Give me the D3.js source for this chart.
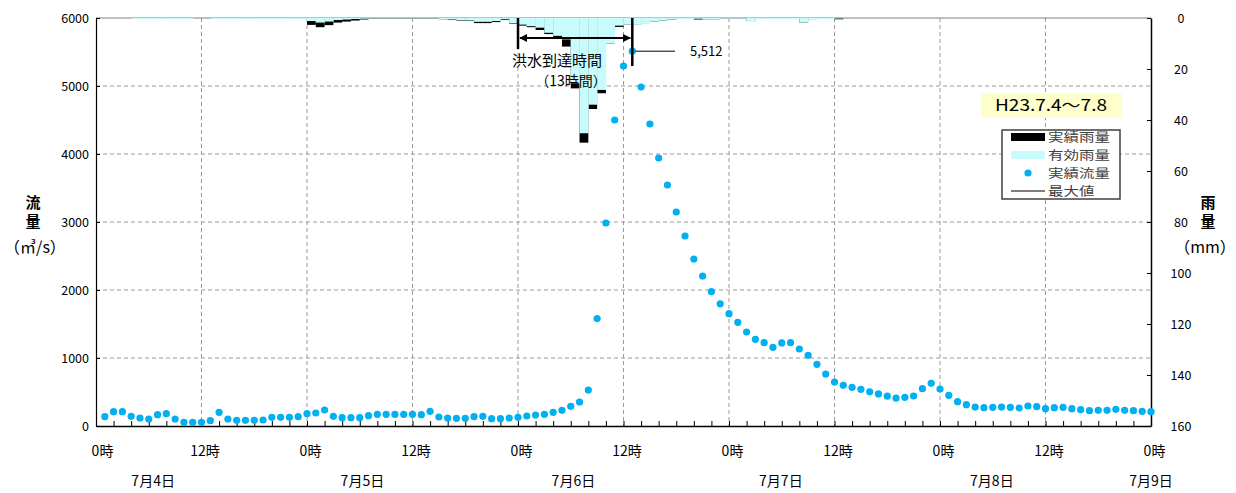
<!DOCTYPE html>
<html><head><meta charset="utf-8">
<script src="https://cdn.jsdelivr.net/npm/d3@7"></script>
<style>
body{margin:0;background:#fff;}
text{font-family:"Noto Sans CJK JP","Noto Sans",sans-serif;}
</style></head>
<body><svg id="c" width="1236" height="493"></svg>
<script>
// hourly flow (m3/s), hours 1..120 starting 7/4 0時
const flow = [137,211,211,142,118,103,167,181,103,54,54,54,78,201,103,83,83,83,88,127,127,127,137,181,
191,235,142,123,123,123,152,172,172,172,172,172,167,216,132,118,113,113,137,142,108,108,118,127,
147,162,172,201,230,289,353,529,1580,2985,4500,5294,5512,4985,4441,3941,3544,3147,2794,2456,2206,1975,1797,1652,
1525,1382,1275,1225,1157,1221,1225,1132,1039,907,765,647,598,569,540,502,471,438,410,422,441,549,627,544,
451,358,314,279,270,275,279,275,265,294,284,255,270,275,255,240,225,230,230,245,230,225,216,211];
// hourly actual rainfall (mm), hours 1..120
const rainActual = [0,0,0,0,0.4,0.4,0.4,0.4,0.4,0.4,0.4,0,0,0.4,0.4,0.4,0.4,0.4,0.4,0.4,0.4,0.4,0.4,0.4,
2.7,3.6,2.8,1.8,1.4,1.0,0.6,0.2,0.2,0.2,0.2,0.2,0.2,0.2,0.2,0.5,0.8,1.0,1.2,2.0,2.0,1.6,0.8,2.2,
3.0,3.6,4.7,6.3,8.0,11.2,27.6,48.9,35.7,29.5,10,3.5,2.5,2.7,2.0,1.4,1.0,0.6,0.4,0.4,0.6,0.5,0.5,0.3,
0.3,0.3,1.2,0.4,0.4,0.4,0.4,0.4,1.8,0.8,0.4,0.4,0.5,0,0,0,0,0,0,0,0,0,0,0,
0,0,0,0,0,0,0,0,0,0,0,0,0,0,0,0,0,0,0,0,0,0,0,0];
// hourly effective rainfall (mm)
const rainEffective = [0,0,0,0,0.4,0.4,0.4,0.4,0.4,0.4,0.4,0,0,0.4,0.4,0.4,0.4,0.4,0.4,0.4,0.4,0.4,0.4,0.4,
1.2,1.8,1.4,0.8,0.6,0.4,0.3,0.2,0.2,0.2,0.2,0.2,0.2,0.2,0.2,0.5,0.6,0.8,1.0,1.5,1.5,1.2,0.5,2.0,
2.6,3.2,3.8,5.8,7.0,8.4,25.6,45.2,34.0,28.2,10,3.0,2.5,2.7,2.0,1.4,1.0,0.6,0.4,0.4,0.3,0.5,0.5,0.3,
0.3,0.3,1.2,0.4,0.4,0.4,0.4,0.4,1.8,0.8,0.4,0.4,0.2,0,0,0,0,0,0,0,0,0,0,0,
0,0,0,0,0,0,0,0,0,0,0,0,0,0,0,0,0,0,0,0,0,0,0,0];
const flowTicks = [0,1000,2000,3000,4000,5000,6000];
const rainTicks = [0,20,40,60,80,100,120,140,160];
const hourLabelTicks = [0,12,24,36,48,60,72,84,96,108,120];
const dateLabels = ["7月4日","7月5日","7月6日","7月7日","7月8日","7月9日"];
const datePos = [6.5,30.3,54.3,77.9,101.9,120];
const legendLabels = ["実績雨量","有効雨量","実績流量","最大値"];
const maxHour = 61, maxValue = 5512;
const arrivalStart = 48, arrivalEnd = 61;

const svg = d3.select("#c");
const L=96,R=1151,T=18,B=426;
const x = d3.scaleLinear().domain([0,120]).range([L,R]);
const y = d3.scaleLinear().domain([0,6000]).range([B,T]);
const yr = d3.scaleLinear().domain([0,160]).range([T,B]);

// grid
const g = svg.append("g");
g.selectAll("line.h").data(flowTicks.filter(d=>d>0&&d<6000)).join("line")
 .attr("x1",L).attr("x2",R).attr("y1",d=>y(d)).attr("y2",d=>y(d))
 .attr("stroke","#9a9a9a").attr("stroke-dasharray","4,3");
g.selectAll("line.v").data(hourLabelTicks.filter(d=>d>0&&d<120)).join("line")
 .attr("y1",T).attr("y2",B).attr("x1",d=>x(d)).attr("x2",d=>x(d))
 .attr("stroke","#9a9a9a").attr("stroke-dasharray","4,3");
// top border
svg.append("line").attr("x1",L).attr("x2",R).attr("y1",T).attr("y2",T).attr("stroke","#808080");

// rain bars
const hours = d3.range(1,121);
svg.append("g").selectAll("rect").data(hours.filter(h=>rainActual[h-1]>0)).join("rect")
 .attr("x",h=>x(h-1)).attr("width",h=>x(h)-x(h-1)).attr("y",T)
 .attr("height",h=>yr(rainActual[h-1])-T).attr("fill","#000");
svg.append("g").selectAll("rect").data(hours.filter(h=>rainEffective[h-1]>0)).join("rect")
 .attr("x",h=>x(h-1)).attr("width",h=>x(h)-x(h-1)+0.3).attr("y",T)
 .attr("height",h=>yr(rainEffective[h-1])-T).attr("fill","#c8fcfc");

// axes
const ax = svg.append("g").attr("transform",`translate(0,${B})`)
 .call(d3.axisBottom(x).tickValues(d3.range(0,121,2)).tickSize(-5).tickSizeOuter(0).tickFormat(""));
ax.select(".domain").attr("stroke","#000").attr("stroke-width",1.5);
const axl = svg.append("g").attr("transform",`translate(0,${B})`)
 .call(d3.axisBottom(x).tickValues(hourLabelTicks).tickSize(0).tickPadding(20).tickFormat(d=>(d%24)+"時"));
axl.select(".domain").remove();
axl.selectAll("text").attr("font-size",14).attr("fill","#000").attr("font-family","Noto Sans CJK JP").attr("dx",(d)=>d===0?6:3);
svg.append("g").selectAll("text").data(dateLabels).join("text")
 .attr("x",(d,i)=>x(datePos[i])).attr("y",486).attr("text-anchor","middle")
 .attr("font-size",14).text(d=>d);

const yl = svg.append("g").attr("transform",`translate(${L},0)`)
 .call(d3.axisLeft(y).tickValues(flowTicks).tickSize(-4).tickSizeOuter(0).tickPadding(7).tickFormat(d3.format("d")));
yl.select(".domain").attr("stroke","#000").attr("stroke-width",1.2);
yl.selectAll("text").attr("font-size",12.5).attr("fill","#000").attr("font-family","Liberation Sans");

const yrr = svg.append("g").attr("transform",`translate(${R},0)`)
 .call(d3.axisRight(yr).tickValues(rainTicks).tickSize(-4).tickSizeOuter(0).tickPadding(30));
yrr.select(".domain").attr("stroke","#000").attr("stroke-width",1.5);
yrr.selectAll("text").attr("font-size",12.5).attr("fill","#000").attr("text-anchor","middle").attr("font-family","Liberation Sans");

// axis titles
[["流",33,208],["量",33,227]].forEach(a=>svg.append("text").attr("x",a[1]).attr("y",a[2]).attr("text-anchor","middle").attr("font-size",15).attr("font-weight","bold").text(a[0]));
svg.append("text").attr("x",35).attr("y",253).attr("text-anchor","middle").attr("font-size",16).text("（㎥/s）");
[["雨",1208,208],["量",1208,227]].forEach(a=>svg.append("text").attr("x",a[1]).attr("y",a[2]).attr("text-anchor","middle").attr("font-size",15).attr("font-weight","bold").text(a[0]));
svg.append("text").attr("x",1205).attr("y",253).attr("text-anchor","middle").attr("font-size",16).text("（mm）");

// flow dots
svg.append("g").selectAll("circle").data(hours).join("circle")
 .attr("cx",h=>x(h)).attr("cy",h=>y(flow[h-1])).attr("r",3.6).attr("fill","#00b0f0");

// arrival time annotation
svg.append("line").attr("x1",x(arrivalStart)).attr("x2",x(arrivalStart)).attr("y1",T).attr("y2",49).attr("stroke","#000").attr("stroke-width",2.5);
svg.append("line").attr("x1",x(arrivalEnd)).attr("x2",x(arrivalEnd)).attr("y1",T).attr("y2",66).attr("stroke","#000").attr("stroke-width",2.5);
const defs = svg.append("defs");
defs.append("marker").attr("id","ah").attr("viewBox","0 0 10 10").attr("refX",9).attr("refY",5)
 .attr("markerWidth",4).attr("markerHeight",4).attr("orient","auto-start-reverse")
 .append("path").attr("d","M0,0L10,5L0,10z").attr("fill","#000");
svg.append("line").attr("x1",x(arrivalStart)+2).attr("x2",x(arrivalEnd)-2).attr("y1",38).attr("y2",38)
 .attr("stroke","#000").attr("stroke-width",2).attr("marker-start","url(#ah)").attr("marker-end","url(#ah)");
svg.append("text").attr("x",557).attr("y",66).attr("text-anchor","middle").attr("font-size",15).text("洪水到達時間");
svg.append("text").attr("x",571).attr("y",86).attr("text-anchor","middle").attr("font-size",14).text("（13時間）");

// max value
svg.append("line").attr("x1",x(maxHour)+3).attr("x2",675).attr("y1",y(maxValue)).attr("y2",y(maxValue)).attr("stroke","#000");
svg.append("text").attr("x",690).attr("y",y(maxValue)+5).attr("font-size",13).attr("font-family","Liberation Sans").text(d3.format(",")(maxValue));

// period label
svg.append("rect").attr("x",981).attr("y",93).attr("width",141).attr("height",25).attr("fill","#ffffcc");
svg.append("text").attr("x",1051).attr("y",111).attr("text-anchor","middle").attr("font-size",16)
 .attr("font-family","DejaVu Sans Mono").attr("textLength",112).attr("lengthAdjust","spacingAndGlyphs").text("H23.7.4～7.8");

// legend
const lg = svg.append("g");
lg.append("rect").attr("x",1002).attr("y",130).attr("width",118).attr("height",69).attr("fill","#fff").attr("stroke","#404040").attr("stroke-width",1.5);
const ly = [137,155,173,191];
lg.append("rect").attr("x",1011).attr("y",ly[0]-4).attr("width",34).attr("height",8).attr("fill","#000");
lg.append("rect").attr("x",1011).attr("y",ly[1]-4).attr("width",34).attr("height",8).attr("fill","#c8fcfc");
lg.append("circle").attr("cx",1028).attr("cy",ly[2]).attr("r",3.6).attr("fill","#00b0f0");
lg.append("line").attr("x1",1011).attr("x2",1045).attr("y1",ly[3]).attr("y2",ly[3]).attr("stroke","#000");
lg.selectAll("text").data(legendLabels).join("text").attr("x",1048).attr("y",(d,i)=>ly[i]+5)
 .attr("font-size",12.3).attr("fill","#404040")
 .attr("textLength",(d)=>d.length*15.5).attr("lengthAdjust","spacingAndGlyphs").text(d=>d);
</script></body></html>
